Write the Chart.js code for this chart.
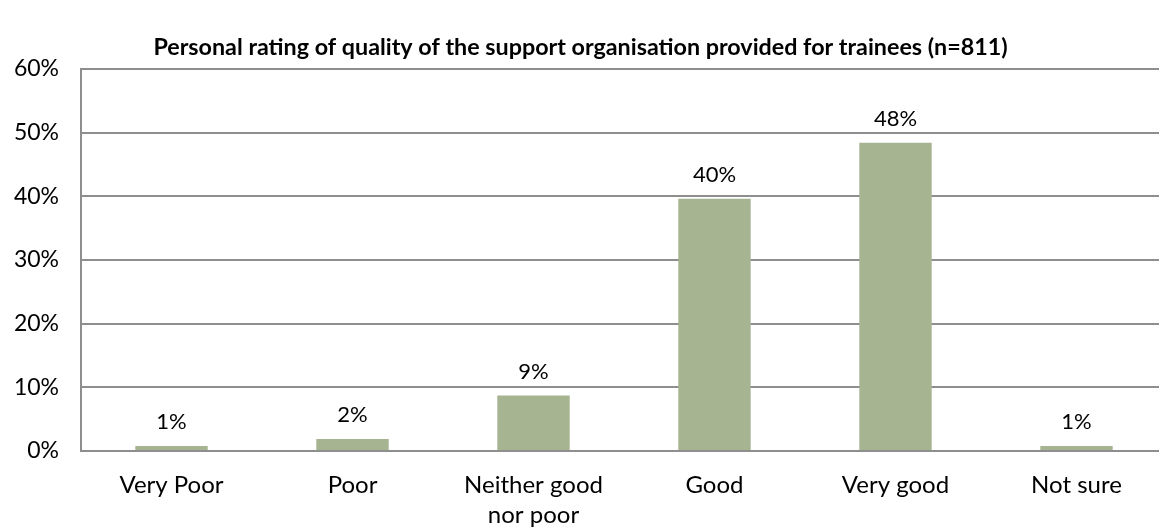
<!DOCTYPE html>
<html>
<head>
<meta charset="utf-8">
<script src="https://cdn.jsdelivr.net/npm/chart.js@4/dist/chart.umd.min.js"></script>
<style>
  html, body { margin: 0; padding: 0; background: #ffffff; overflow: hidden; }
  #wrap { position: relative; width: 1180px; height: 531px; }
</style>
</head>
<body>
<div id="wrap"><canvas id="chart"></canvas></div>
<script>
// Survey answers and their shares (%)
const categories = ["Very Poor", "Poor", ["Neither good", "nor poor"], "Good", "Very good", "Not sure"];
const shares = [0.8, 1.9, 8.7, 39.6, 48.4, 0.8];
const yTicks = [0, 10, 20, 30, 40, 50, 60];
const chartTitle = "Personal rating of quality of the support organisation provided for trainees (n=811)";

const FONT = "Lato, 'Open Sans', sans-serif";

// Writes each bar's rounded share just above it
const valueLabels = {
  id: "valueLabels",
  afterDatasetsDraw(chart) {
    const ctx = chart.ctx;
    ctx.save();
    ctx.font = "22px " + FONT;
    ctx.fillStyle = "#000000";
    ctx.textAlign = "center";
    ctx.textBaseline = "bottom";
    chart.getDatasetMeta(0).data.forEach((bar, i) => {
      const v = chart.data.datasets[0].data[i];
      ctx.fillText(Math.round(v) + "%", bar.x, bar.y - 13);
    });
    ctx.restore();
  }
};

// Centres the title on the visible page width rather than the wider canvas
const titleCentering = {
  id: "titleCentering",
  afterLayout(chart) {
    const t = chart.titleBlock;
    if (t) {
      t.left = 0;
      t.right = window.innerWidth + 2;
      t.width = t.right - t.left;
    }
  }
};

new Chart(document.getElementById("chart"), {
  type: "bar",
  data: {
    labels: categories,
    datasets: [{
      data: shares,
      backgroundColor: "#A6B492",
      borderWidth: 0,
      barPercentage: 0.4,
      categoryPercentage: 1
    }]
  },
  options: {
    responsive: true,
    maintainAspectRatio: false,
    animation: false,
    devicePixelRatio: 1,
    layout: { padding: { left: 12, right: 13, top: 0, bottom: 2 } },
    plugins: {
      legend: { display: false },
      tooltip: { enabled: false },
      title: {
        display: true,
        text: chartTitle,
        color: "#000000",
        font: { family: FONT, size: 23.3, weight: "bold", lineHeight: 1.2 },
        padding: { top: 33, bottom: 8 }
      }
    },
    scales: {
      x: {
        grid: { display: false, drawTicks: false },
        border: { display: true, color: "#8E8E8E", width: 2 },
        afterFit(scale) { scale.height = 78; },
        ticks: {
          color: "#000000",
          font: { family: FONT, size: 24, lineHeight: 1.22 },
          padding: 20,
          maxRotation: 0,
          autoSkip: false
        }
      },
      y: {
        min: 0,
        max: 60,
        afterBuildTicks(scale) { scale.ticks = yTicks.map(v => ({ value: v })); },
        afterFit(scale) { scale.width = 69; },
        grid: { color: "#8E8E8E", lineWidth: 2, drawTicks: false },
        border: { display: true, color: "#8E8E8E", width: 2 },
        ticks: {
          color: "#000000",
          font: { family: FONT, size: 23 },
          padding: 22,
          callback: v => v + "%"
        }
      }
    }
  },
  plugins: [valueLabels, titleCentering]
});
</script>
</body>
</html>
